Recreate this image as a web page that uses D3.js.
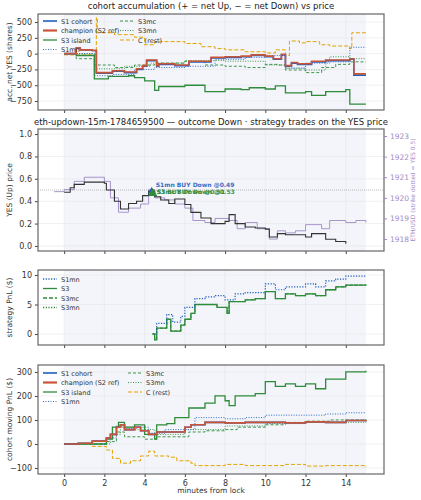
<!DOCTYPE html>
<html>
<head>
<meta charset="utf-8">
<script src="https://d3js.org/d3.v7.min.js"></script>
<style>
  body { margin: 0; background: #fff; font-family: "DejaVu Sans", sans-serif; }
  text { font-family: "DejaVu Sans", sans-serif; }
</style>
</head>
<body>
<script>
// ---------------- data (time in minutes from lock, value) ----------------
var accS1 = [[0,0],[0.6,90],[0.8,60],[1.4,50],[1.6,-310],[2.4,-280],[3,-300],[3.6,-250],[3.9,-200],[4.1,-110],[4.6,-200],[4.7,-170],[5.5,-190],[6.2,-130],[7.3,-70],[8,-60],[8.8,-50],[9.3,-30],[10,-50],[10.4,-90],[10.8,-20],[11,-200],[11.3,-150],[11.6,-170],[12.3,-130],[13,-110],[14.2,-90],[14.4,-340],[15,-340]];
var accChamp = [[0,0],[0.6,90],[0.8,60],[1.4,50],[1.6,-300],[2.4,-270],[3,-290],[3.6,-240],[3.9,-190],[4.1,-100],[4.6,-190],[4.7,-160],[5.5,-180],[6.2,-120],[7.3,-60],[8,-50],[8.8,-40],[9.3,-20],[10,-40],[10.4,-80],[10.8,-10],[11,-190],[11.3,-140],[11.6,-160],[12.3,-120],[13,-100],[14.2,-80],[14.4,-320],[15,-320]];
var accS3 = [[0,0],[0.6,-30],[1.5,-400],[2.2,-360],[3.2,-350],[3.5,-380],[4,-430],[4.5,-580],[4.7,-520],[6,-500],[7,-600],[8,-560],[8.8,-570],[9.2,-540],[10,-560],[10.5,-510],[11,-620],[12,-600],[12.3,-660],[13,-600],[14,-570],[14.2,-800],[15,-800]];
var accS1mn = [[0,0],[1.5,-350],[2.4,-330],[3.5,-250],[4.5,-220],[6,-200],[7.5,-90],[9,-60],[10,-30],[11,-230],[12,-150],[13,-130],[14.2,100],[15,100]];
var accS3mc = [[0,0],[0.6,-80],[1.5,-180],[2.5,-220],[3.5,-180],[4.5,-150],[6,-120],[7,-180],[8,-200],[9,-220],[10,-170],[10.6,-180],[11,-260],[12,-300],[12.8,-220],[13.5,-170],[14.2,-130],[15,-130]];
var accS3mn = [[0,0],[1.5,-240],[3,-200],[4.3,-150],[6,-110],[8,-120],[10,-180],[11,-230],[12,-260],[13,-150],[13.2,-50],[14.2,-80],[15,-80]];
var accC = [[0,-20],[1.6,570],[1.65,330],[2.5,300],[3.5,260],[4,140],[4.5,190],[5.5,190],[6,160],[6.8,110],[7.5,80],[8,60],[9,30],[10,10],[10.5,60],[11,-30],[11.2,200],[11.7,170],[12,190],[12.7,140],[13.2,120],[14.2,80],[14.3,330],[15,330]];

var yesPrice = [[0,0.48],[0.3,0.52],[0.5,0.55],[1,0.57],[2,0.56],[2.1,0.5],[2.5,0.4],[2.8,0.33],[3.2,0.38],[3.6,0.4],[3.9,0.45],[4.2,0.49],[4.5,0.44],[4.8,0.41],[5.2,0.38],[5.5,0.42],[6,0.37],[6.3,0.3],[6.8,0.25],[7.3,0.2],[8,0.22],[8.2,0.28],[8.5,0.2],[9,0.17],[9.5,0.16],[10,0.15],[10.2,0.08],[10.6,0.11],[11,0.1],[11.5,0.1],[12,0.08],[12.3,0.11],[13,0.06],[13.5,0.04],[14,0.02]];
var ethUsd = [[-0.5,1920.3],[0,1920.4],[0.5,1920.8],[1,1921],[2,1920.8],[2.3,1920],[2.7,1919.3],[3.2,1919.5],[3.8,1919.7],[4.2,1920.4],[4.5,1920],[5,1919.9],[5.5,1919.7],[6,1919.5],[6.4,1918.9],[7,1918.8],[7.5,1919],[8.2,1918.9],[8.6,1918.5],[9,1918.8],[9.6,1918.5],[10.2,1918],[10.6,1918.4],[11,1918.3],[11.5,1918.4],[12,1918.7],[12.8,1918.5],[13.2,1918.9],[14,1918.8],[14.5,1918.9],[15,1918.8]];
var trades = [
  {t: 4.35, p: 0.49, label: "S1mn BUY Down @0.49", c: "#1f5fbf", dy: -4},
  {t: 4.4, p: 0.47, label: "S3mc BUY Down @0.53", c: "#2e8b3a", dy: 1},
  {t: 4.4, p: 0.47, label: "S3 BUY Down @0.51", c: "#2e8b3a", dy: 1}
];

var pnlS3 = [[4.4,0],[4.5,-1],[4.6,1],[5.1,2.5],[5.3,0.5],[5.8,1.5],[6,2.5],[6.3,3.5],[6.5,5],[7.3,5],[7.6,4.5],[8.1,3.5],[8.2,5.5],[8.6,5.5],[9,5.8],[9.5,6],[10,7.2],[10.5,6],[11,6.8],[11.5,6.5],[12,6.8],[12.5,6.5],[13,7.5],[13.5,8],[14,8.3],[15,8.4]];
var pnlS1mn = [[4.4,0],[4.6,1.8],[5.1,3.3],[5.4,2],[5.8,3],[6,4.5],[6.5,6],[7,6.3],[7.5,6.5],[8,5.8],[8.5,6.8],[9,7],[10,8.5],[10.5,7.5],[11,8],[12,8.5],[12.5,8],[13,9],[13.5,9.3],[14,9.8],[15,9.8]];

var movS1 = [[0,0],[0.7,3],[1.4,12],[2.1,25],[2.3,40],[2.6,70],[2.8,80],[3,60],[3.5,70],[3.8,55],[4.2,40],[4.6,50],[5,50],[5.6,50],[6,70],[6.3,80],[7,90],[8,88],[9,90],[10,90],[11,88],[12,92],[13,90],[14,98],[15,100]];
var movS3 = [[0,0],[2.1,20],[2.4,70],[2.7,90],[3,70],[3.5,80],[4,40],[4.5,20],[4.6,80],[5.1,85],[5.5,110],[6.2,150],[7,170],[7.5,200],[8,180],[8.2,160],[8.5,200],[9,200],[9.5,210],[10,260],[10.5,240],[11,250],[11.5,240],[12,250],[12.5,230],[13,270],[14,300],[15,305]];
var movS1mn = [[0,0],[2.1,25],[2.6,75],[3,65],[3.6,70],[4.2,45],[5,60],[6.5,110],[7,110],[8,105],[9,110],[10,120],[12,120],[13,125],[14,130],[15,130]];
var movS3mc = [[0,0],[2.1,10],[2.6,50],[3,30],[4,20],[4.6,30],[6.2,50],[7,55],[8,60],[8.6,70],[10,80],[11,90],[12,95],[13.2,100],[15,103]];
var movS3mn = [[0,0],[2.3,40],[2.8,70],[3.5,60],[4.5,40],[6,60],[8,75],[10,85],[12,90],[15,100]];
var movC = [[0,0],[1.4,-10],[2.1,-25],[2.4,-60],[2.8,-80],[3.3,-70],[3.8,-50],[4.2,-30],[4.5,-50],[5.2,-55],[5.6,-70],[6.3,-80],[6.5,-90],[8,-85],[9,-90],[11,-85],[12,-92],[13,-90],[15,-97]];

var xTicks = [0, 2, 4, 6, 8, 10, 12, 14];

// ---------------- setup ----------------
var W = 421, H = 500;
var svg = d3.select("body").append("svg").attr("width", W).attr("height", H);
var left = 38, right = 384;
var x = d3.scaleLinear().domain([-1.3, 15.9]).range([left, right]);

var BLUE = "#1f5fbf", RED = "#c8553a", GREEN = "#2e8b3a", ORANGE = "#e3a300", PURPLE = "#9f8ac6";

function panel(top, bottom, yDom, yTicks, ylabel, showX) {
  var y = d3.scaleLinear().domain(yDom).range([bottom, top]);
  var g = svg.append("g");
  g.append("rect").attr("x", x(0)).attr("y", top).attr("width", x(15) - x(0))
    .attr("height", bottom - top).attr("fill", "#f3f5fa");
  xTicks.forEach(function (t) {
    g.append("line").attr("x1", x(t)).attr("x2", x(t)).attr("y1", top).attr("y2", bottom)
      .attr("stroke", "#e6e6e6").attr("stroke-width", 0.6);
  });
  yTicks.forEach(function (t) {
    g.append("line").attr("x1", left).attr("x2", right).attr("y1", y(t)).attr("y2", y(t))
      .attr("stroke", "#e6e6e6").attr("stroke-width", 0.6);
  });
  var ya = g.append("g").attr("transform", "translate(" + left + ",0)")
    .call(d3.axisLeft(y).tickValues(yTicks).tickSize(3).tickFormat(function (d) { return String(d).replace("-", "\u2212"); }));
  var xa = g.append("g").attr("transform", "translate(0," + bottom + ")")
    .call(d3.axisBottom(x).tickValues(xTicks).tickSize(3).tickFormat(function (d) { return showX ? d : ""; }));
  [ya, xa].forEach(function (a) {
    a.select(".domain").remove();
    a.selectAll("text").attr("font-size", 8).attr("fill", "#333");
    a.selectAll("line").attr("stroke", "#444");
  });
  g.append("rect").attr("x", left).attr("y", top).attr("width", right - left).attr("height", bottom - top)
    .attr("fill", "none").attr("stroke", "#666").attr("stroke-width", 1.2);
  g.append("text").attr("transform", "translate(" + 12 + "," + ((top + bottom) / 2) + ") rotate(-90)")
    .attr("text-anchor", "middle").attr("font-size", 7.5).attr("fill", "#333").text(ylabel);
  return {y: y, g: g};
}

function step(p, data, color, width, dash, yScale, opacity) {
  var ys = yScale || p.y;
  var line = d3.line().curve(d3.curveStepAfter).x(function (d) { return x(d[0]); }).y(function (d) { return ys(d[1]); });
  p.g.append("path").datum(data).attr("d", line).attr("fill", "none").attr("stroke", color)
    .attr("stroke-width", width).attr("stroke-dasharray", dash || null).attr("opacity", opacity || 1);
}

function legend(p, items, x0, y0, colW, perCol) {
  items.forEach(function (it, i) {
    var cx = x0 + Math.floor(i / perCol) * colW, cy = y0 + (i % perCol) * 9.5;
    p.g.append("line").attr("x1", cx).attr("x2", cx + 14).attr("y1", cy).attr("y2", cy)
      .attr("stroke", it.c).attr("stroke-width", it.w).attr("stroke-dasharray", it.d || null);
    p.g.append("text").attr("x", cx + 18).attr("y", cy + 2.5).attr("font-size", 6.5).attr("fill", "#333").text(it.n);
  });
}

function title(yy, t) {
  svg.append("text").attr("x", (left + right) / 2).attr("y", yy).attr("text-anchor", "middle")
    .attr("font-size", 8.5).attr("fill", "#222").text(t);
}

// ---------------- panel 1 ----------------
title(9, "cohort accumulation (+ = net Up, \u2212 = net Down) vs price");
var p1 = panel(14, 110, [-892, 627], [-750, -500, -250, 0, 250, 500], "acc. net YES (shares)", false);
step(p1, accC, ORANGE, 1, "4,2");
step(p1, accS3mc, GREEN, 0.9, "3,2");
step(p1, accS3mn, GREEN, 0.9, "1,1.5");
step(p1, accS1mn, BLUE, 0.9, "1,1.5");
step(p1, accS3, GREEN, 1.3);
step(p1, accS1, BLUE, 1.6);
step(p1, accChamp, RED, 1.6);
var legItems = [
  {n: "S1 cohort", c: BLUE, w: 1.6}, {n: "champion (S2 ref)", c: RED, w: 2.2},
  {n: "S3 island", c: GREEN, w: 1.3}, {n: "S1mn", c: BLUE, w: 0.9, d: "1,1.5"},
  {n: "S3mc", c: GREEN, w: 0.9, d: "3,2"}, {n: "S3mn", c: GREEN, w: 0.9, d: "1,1.5"},
  {n: "C (rest)", c: ORANGE, w: 1, d: "4,2"}
];
legend(p1, legItems, 43, 21, 77, 4);

// ---------------- panel 2 ----------------
title(125, "eth-updown-15m-1784659500 \u2014 outcome Down \u00b7 strategy trades on the YES price");
var p2 = panel(129, 251, [-0.045, 1.045], [0, 0.2, 0.4, 0.6, 0.8, 1.0], "YES (Up) price", false);
p2.g.selectAll(".tick text").filter(function (d) { return d <= 1.0 && d >= 0 && this.textContent !== ""; })
  .text(function (d) { return d3.format(".1f")(d); });
var yEth = d3.scaleLinear().domain([1917.42, 1923.34]).range([251, 129]);
var ra = p2.g.append("g").attr("transform", "translate(" + right + ",0)")
  .call(d3.axisRight(yEth).tickValues([1918, 1919, 1920, 1921, 1922, 1923]).tickSize(3).tickFormat(d3.format("d")));
ra.select(".domain").remove();
ra.selectAll("text").attr("font-size", 7.5).attr("fill", PURPLE);
ra.selectAll("line").attr("stroke", PURPLE);
p2.g.append("text").attr("transform", "translate(415,190) rotate(-90)").attr("text-anchor", "middle")
  .attr("font-size", 6).attr("fill", PURPLE).text("ETH/USD (strike dotted = YES 0.5)");
p2.g.append("line").attr("x1", left).attr("x2", right).attr("y1", p2.y(0.5)).attr("y2", p2.y(0.5))
  .attr("stroke", "#aaa").attr("stroke-width", 0.8).attr("stroke-dasharray", "1,1");
step(p2, ethUsd, PURPLE, 0.9, null, yEth);
step(p2, yesPrice, "#333", 1.1);
trades.forEach(function (tr, i) {
  var sym = d3.symbol().type(d3.symbolTriangle).size(i === 0 ? 22 : 34);
  p2.g.append("path").attr("d", sym()).attr("fill", tr.c)
    .attr("transform", "translate(" + x(tr.t) + "," + p2.y(tr.p) + ")");
  p2.g.append("text").attr("x", x(tr.t) + 4).attr("y", p2.y(tr.p) + tr.dy)
    .attr("font-size", 6).attr("font-weight", "bold").attr("fill", tr.c).attr("opacity", 0.9).text(tr.label);
});

// ---------------- panel 3 ----------------
var p3 = panel(270, 345, [-1.86, 10.85], [0, 5, 10], "strategy PnL ($)", false);
step(p3, pnlS3, GREEN, 0.9, "3,2");
step(p3, pnlS3, GREEN, 0.9, "1,1.5");
step(p3, pnlS3, GREEN, 1.3);
step(p3, pnlS1mn, BLUE, 1.2, "1.2,1.5");
legend(p3, [
  {n: "S1mn", c: BLUE, w: 1.3, d: "1.2,1.5"}, {n: "S3", c: GREEN, w: 1.3},
  {n: "S3mc", c: GREEN, w: 1.3, d: "4,2"}, {n: "S3mn", c: GREEN, w: 1.3, d: "1.2,1.5"}
], 43, 279, 0, 4);

// ---------------- panel 4 ----------------
var p4 = panel(365, 474, [-125, 329], [-100, 0, 100, 200, 300], "cohort moving PnL ($)", true);
step(p4, movC, ORANGE, 1, "4,2");
step(p4, movS3mc, GREEN, 0.9, "3,2");
step(p4, movS3mn, GREEN, 0.9, "1,1.5");
step(p4, movS1mn, BLUE, 0.9, "1,1.5");
step(p4, movS3, GREEN, 1.3);
step(p4, movS1, BLUE, 1.6);
step(p4, movS1, RED, 1.6);
legend(p4, legItems, 43, 373, 85, 4);
svg.append("text").attr("x", (left + right) / 2).attr("y", 493).attr("text-anchor", "middle")
  .attr("font-size", 7.5).attr("fill", "#333").text("minutes from lock");
</script>
</body>
</html>
